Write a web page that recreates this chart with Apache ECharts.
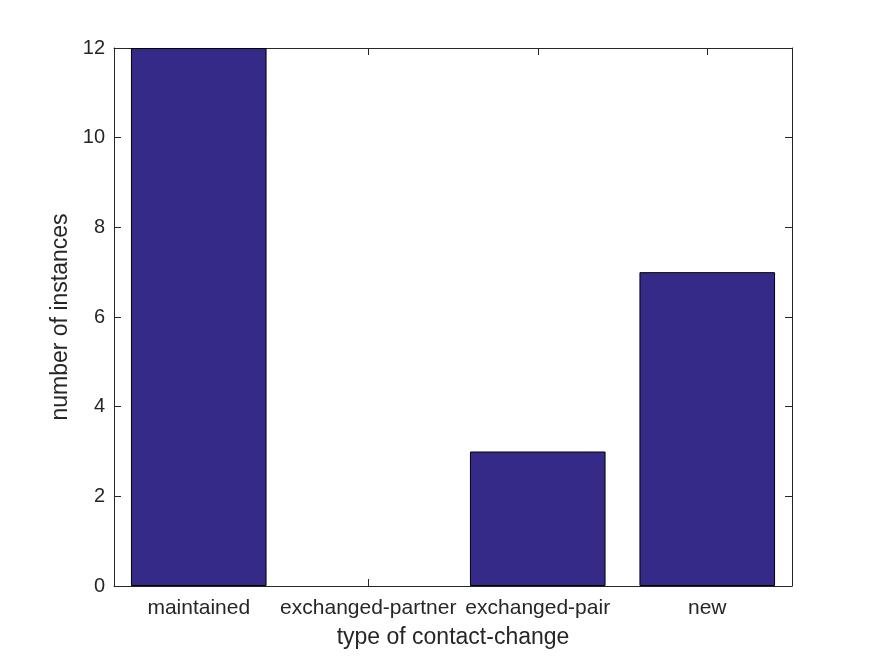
<!DOCTYPE html>
<html>
<head>
<meta charset="utf-8">
<script src="https://cdn.jsdelivr.net/npm/echarts@6/dist/echarts.min.js"></script>
<style>
html,body{margin:0;padding:0;background:#fff;}
#chart{width:875px;height:656px;}
</style>
</head>
<body>
<div id="chart"></div>
<script>
const categories = ['maintained', 'exchanged-partner', 'exchanged-pair', 'new'];
const counts = [12, 0, 3, 7];
const yTicks = [0, 2, 4, 6, 8, 10, 12];

const FONT = 'Liberation Sans, Arial, Helvetica, sans-serif';
const AX = '#262626';
const chart = echarts.init(document.getElementById('chart'));
const mkLine = () => ({ show: true, onZero: false, lineStyle: { color: AX, width: 1 } });
const mkTick = (extra) => Object.assign({ show: true, inside: true, length: 7, lineStyle: { color: AX, width: 1 } }, extra || {});

chart.setOption({
  animation: false,
  backgroundColor: '#fff',
  grid: { left: 114, right: 83, top: 48, bottom: 70, containLabel: false },
  xAxis: [
    {
      type: 'category', data: categories, position: 'bottom',
      axisLine: mkLine(),
      axisTick: mkTick({ alignWithLabel: true, interval: 0 }),
      axisLabel: { color: AX, fontFamily: FONT, fontSize: 21, margin: 12, interval: 0 },
      name: 'type of contact-change', nameLocation: 'middle', nameGap: 40,
      nameTextStyle: { color: AX, fontFamily: FONT, fontSize: 23 },
      splitLine: { show: false }
    },
    {
      type: 'category', data: categories, position: 'top',
      axisLine: mkLine(),
      axisTick: mkTick({ alignWithLabel: true, interval: 0 }),
      axisLabel: { show: false },
      splitLine: { show: false }
    }
  ],
  yAxis: [
    {
      type: 'value', min: yTicks[0], max: yTicks[yTicks.length - 1], interval: 2, position: 'left',
      axisLine: mkLine(), axisTick: mkTick(),
      axisLabel: { color: AX, fontFamily: FONT, fontSize: 20, margin: 9 },
      splitLine: { show: false },
      name: 'number of instances', nameLocation: 'middle', nameGap: 39,
      nameTextStyle: { color: AX, fontFamily: FONT, fontSize: 23 }
    },
    {
      type: 'value', min: yTicks[0], max: yTicks[yTicks.length - 1], interval: 2, position: 'right',
      axisLine: mkLine(), axisTick: mkTick(),
      axisLabel: { show: false },
      splitLine: { show: false }
    }
  ],
  series: [
    {
      type: 'bar', xAxisIndex: 0, yAxisIndex: 0,
      data: counts.map(v => (v === 0 ? { value: v, itemStyle: { borderWidth: 0 } } : v)),
      barWidth: '80%',
      itemStyle: { color: '#352a87', borderColor: '#000', borderWidth: 1 }
    }
  ]
});
</script>
</body>
</html>
